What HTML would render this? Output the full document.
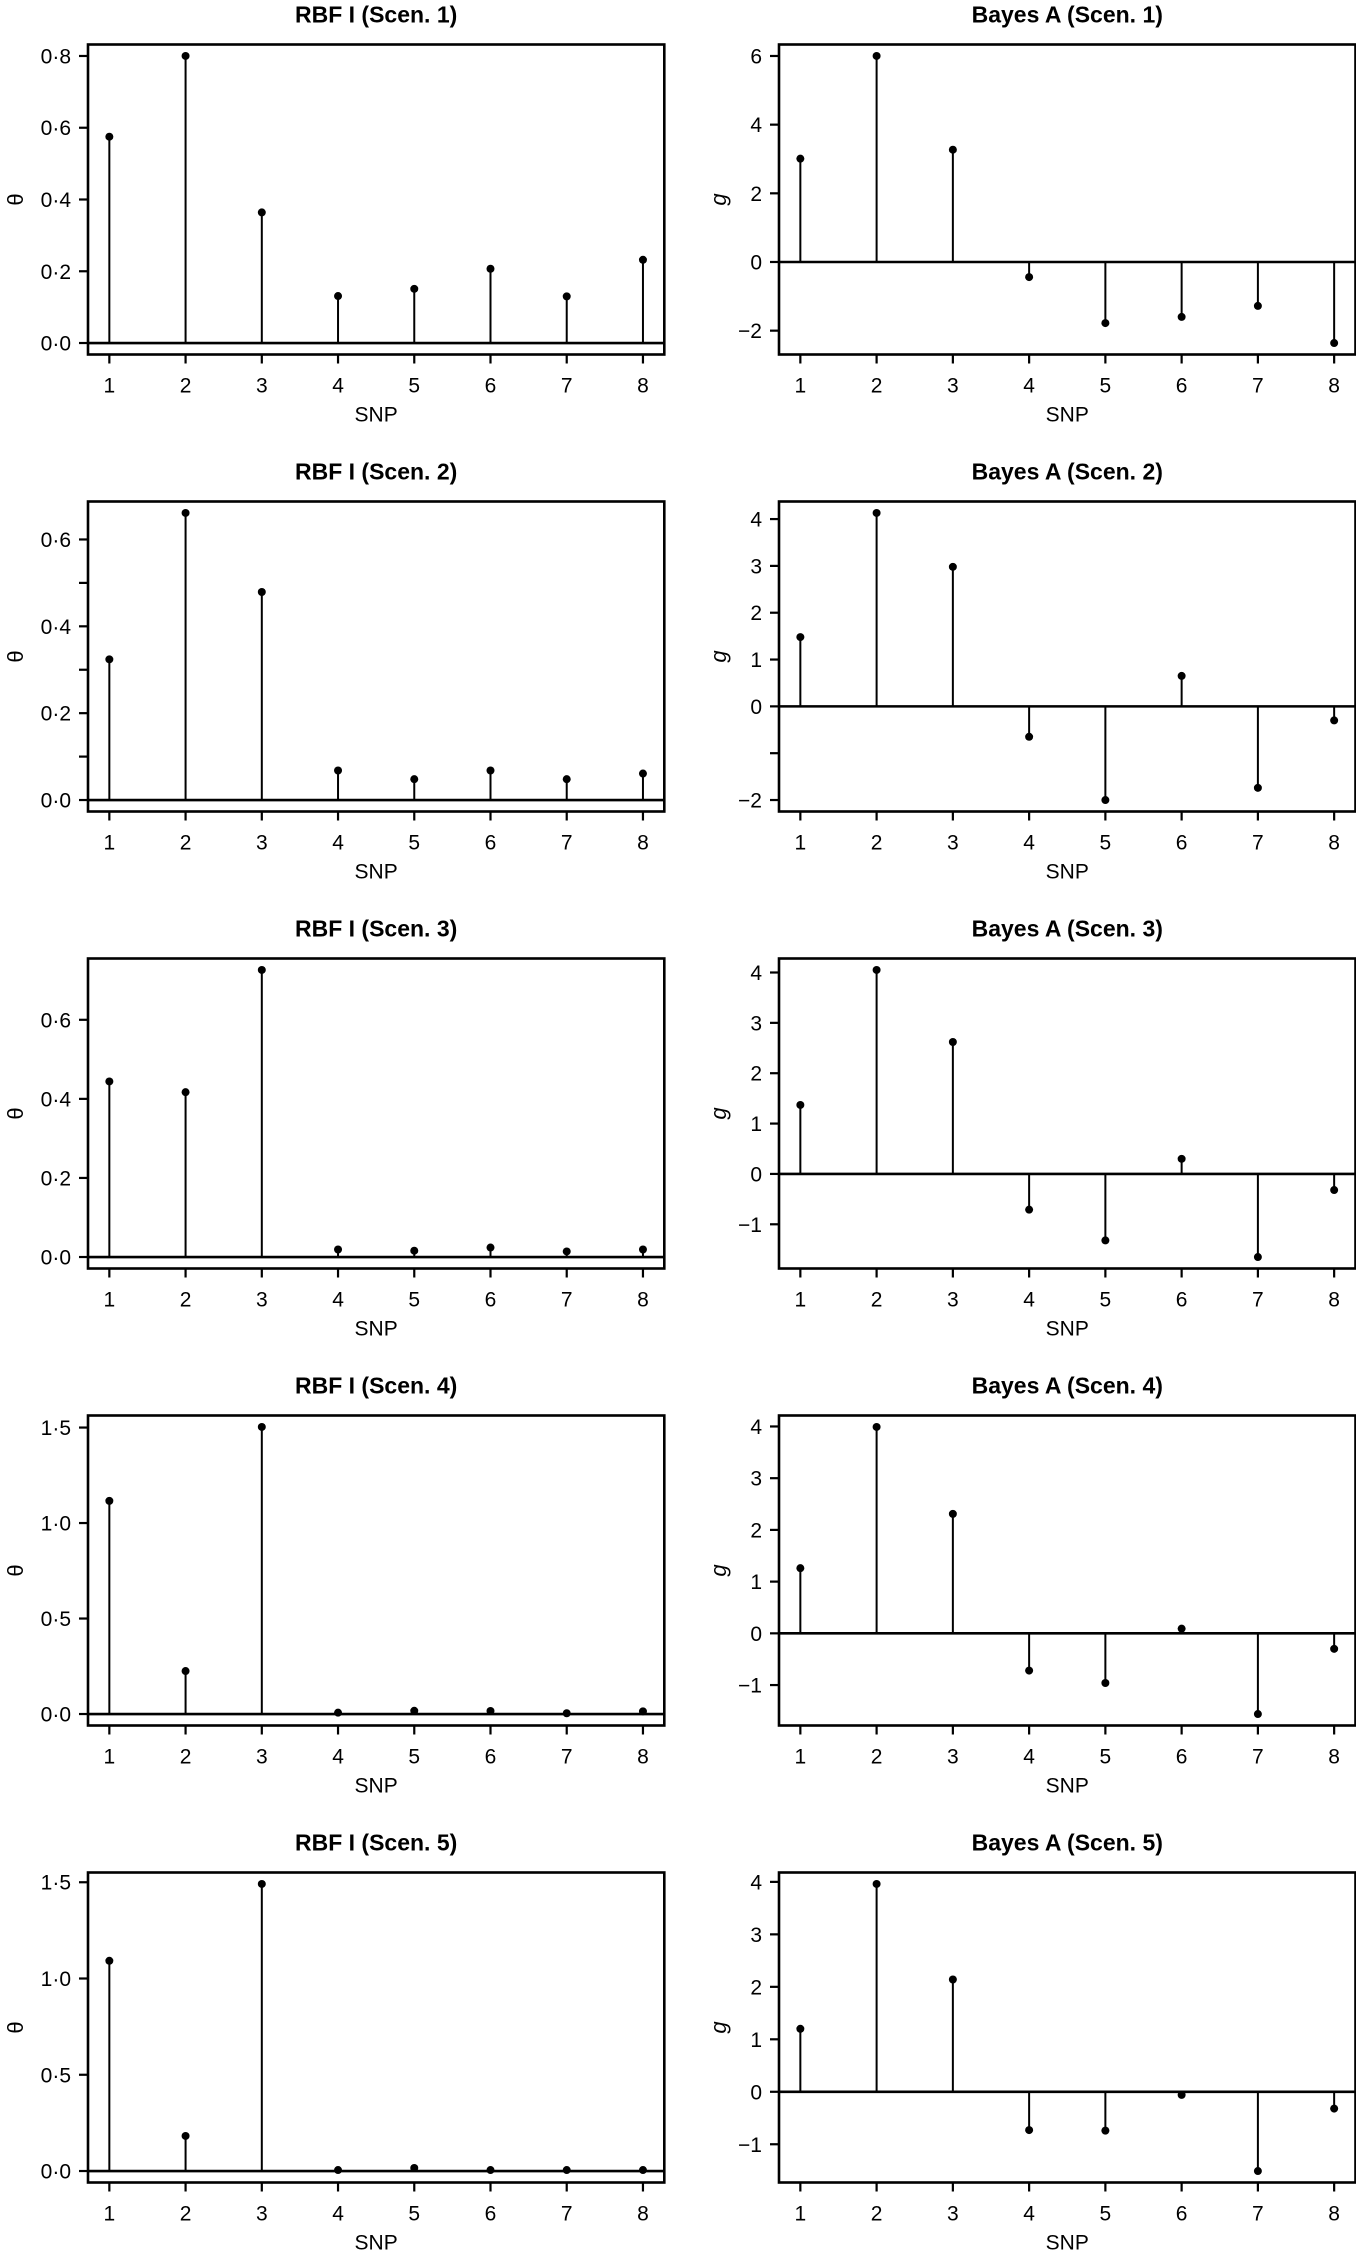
<!DOCTYPE html>
<html><head><meta charset="utf-8">
<style>
html,body{margin:0;padding:0;background:#fff;}
#wrap{position:relative;width:1356px;height:2255px;overflow:hidden;}
svg{display:block;font-family:"Liberation Sans",Arial,sans-serif;}
</style></head>
<body>
<div id="wrap">
<svg id="fig" width="1356" height="2255" viewBox="0 0 1356 2255"></svg>
</div>
<script>
var snps = [1,2,3,4,5,6,7,8];
var rbfTitles = ["RBF I (Scen. 1)","RBF I (Scen. 2)","RBF I (Scen. 3)","RBF I (Scen. 4)","RBF I (Scen. 5)"];
var bayesTitles = ["Bayes A (Scen. 1)","Bayes A (Scen. 2)","Bayes A (Scen. 3)","Bayes A (Scen. 4)","Bayes A (Scen. 5)"];
var rbf1 = [0.575,0.80,0.364,0.131,0.151,0.207,0.130,0.232];
var rbf2 = [0.324,0.661,0.479,0.068,0.048,0.068,0.048,0.061];
var rbf3 = [0.444,0.417,0.726,0.019,0.016,0.024,0.014,0.019];
var rbf4 = [1.116,0.225,1.503,0.007,0.017,0.016,0.004,0.014];
var rbf5 = [1.092,0.182,1.491,0.005,0.016,0.005,0.005,0.005];
var bay1 = [3.01,6.0,3.27,-0.44,-1.78,-1.60,-1.28,-2.36];
var bay2 = [1.48,4.13,2.98,-0.65,-2.0,0.65,-1.74,-0.30];
var bay3 = [1.37,4.05,2.62,-0.71,-1.32,0.30,-1.65,-0.32];
var bay4 = [1.26,3.99,2.31,-0.72,-0.96,0.09,-1.56,-0.30];
var bay5 = [1.20,3.96,2.14,-0.73,-0.74,-0.06,-1.51,-0.32];
var rbfTicks1 = [0,0.2,0.4,0.6,0.8];
var rbfTicks2 = [0,0.1,0.2,0.3,0.4,0.5,0.6];
var rbfLabels2 = ["0·0","","0·2","","0·4","","0·6"];
var rbfTicks3 = [0,0.2,0.4,0.6];
var rbfTicks45 = [0,0.5,1.0,1.5];
var bayTicks1 = [-2,0,2,4,6];
var bayTicks2 = [-2,-1,0,1,2,3,4];
var bayLabels2 = ["−2","","0","1","2","3","4"];
var bayTicks345 = [-1,0,1,2,3,4];

var rbfData = [rbf1,rbf2,rbf3,rbf4,rbf5];
var bayData = [bay1,bay2,bay3,bay4,bay5];
var rbfTicks = [rbfTicks1,rbfTicks2,rbfTicks3,rbfTicks45,rbfTicks45];
var bayTicks = [bayTicks1,bayTicks2,bayTicks345,bayTicks345,bayTicks345];

var NS="http://www.w3.org/2000/svg";
var svgRoot=document.getElementById('fig');
function mk(tag,attrs,parent){
  var e=document.createElementNS(NS,tag);
  for(var k in attrs){e.setAttribute(k,String(attrs[k]));}
  (parent||svgRoot).appendChild(e);
  return e;
}
function fmtR(v){return v.toFixed(1).replace('.', '·');}
function fmtB(v){return v<0?('−'+Math.abs(v)):String(v);}

function drawPanel(L,R,T,B,title,vals,ticks,labelFn,ylab,isItalic,key){
  var grp=mk('g',{});
  
  
  var ymin=0, ymax=0;
  for(var q=0;q<vals.length;q++){ if(vals[q]<ymin) ymin=vals[q]; if(vals[q]>ymax) ymax=vals[q]; }
  var span=ymax-ymin, lo=ymin-0.04*span, hi=ymax+0.04*span;
  function sx(v){return L+(v-0.72)/7.56*(R-L);}
  function sy(v){return B-(v-lo)/(hi-lo)*(B-T);}
  var tt=mk('text',{x:(L+R)/2,y:T-22,'text-anchor':'middle','font-size':23,'font-weight':'bold'},grp);
  tt.textContent=title;
  
  
  var zl=mk('line',{x1:L,x2:R,y1:sy(0),y2:sy(0),stroke:'#000','stroke-width':2.6},grp);
  
  
  for(var i=0;i<vals.length;i++){
    var v=vals[i], x=sx(snps[i]);
    var st=mk('line',{x1:x,x2:x,y1:sy(0),y2:sy(v),stroke:'#000','stroke-width':2},grp);
    
    
    var ci=mk('circle',{cx:x,cy:sy(v),r:4,fill:'#000'},grp);
    
    
  }
  var fr=mk('rect',{x:L,y:T,width:R-L,height:B-T,fill:'none',stroke:'#000','stroke-width':2.6},grp);
  
  
  for(var j=0;j<snps.length;j++){
    var xx=sx(snps[j]);
    mk('line',{x1:xx,x2:xx,y1:B,y2:B+9,stroke:'#000','stroke-width':2.2},grp);
    var tl=mk('text',{x:xx,y:B+38,'text-anchor':'middle','font-size':21},grp);
    tl.textContent=String(snps[j]);
    
    
  }
  var xl=mk('text',{x:(L+R)/2,y:B+67,'text-anchor':'middle','font-size':21},grp);
  xl.textContent='SNP';
  
  
  for(var m=0;m<ticks.length;m++){
    var yy=sy(ticks[m]);
    mk('line',{x1:L-9,x2:L,y1:yy,y2:yy,stroke:'#000','stroke-width':2.2},grp);
    var lab=labelFn(ticks[m],m);
    if(lab){
      var yl=mk('text',{x:L-17,y:yy+7.5,'text-anchor':'end','font-size':21},grp);
      yl.textContent=lab;
      
      
    }
  }
  var ax=L-(isItalic?53:65), ay=(T+B)/2;
  var yt=mk('text',{x:0,y:0,'text-anchor':'middle','font-size':22,'font-style':(isItalic?'italic':'normal'),transform:'translate('+ax+','+ay+') rotate(-90)'},grp);
  yt.textContent=ylab;
  
  
}

function rbfLab(row){ return row===1 ? function(v,i){return rbfLabels2[i];} : function(v){return fmtR(v);}; }
function bayLab(row){ return row===1 ? function(v,i){return bayLabels2[i];} : function(v){return fmtB(v);}; }

for(var rowIdx=0;rowIdx<5;rowIdx++){
  var rowTop=44.5+457*rowIdx, rowBot=rowTop+310;
  try{ drawPanel(88,664.3,rowTop,rowBot,rbfTitles[rowIdx],rbfData[rowIdx],rbfTicks[rowIdx],rbfLab(rowIdx),'θ',false,'rbf-scen'+(rowIdx+1)); }catch(e){}
  try{ drawPanel(779,1355.5,rowTop,rowBot,bayesTitles[rowIdx],bayData[rowIdx],bayTicks[rowIdx],bayLab(rowIdx),'g',true,'bayes-scen'+(rowIdx+1)); }catch(e){}
}
</script>
</body></html>
